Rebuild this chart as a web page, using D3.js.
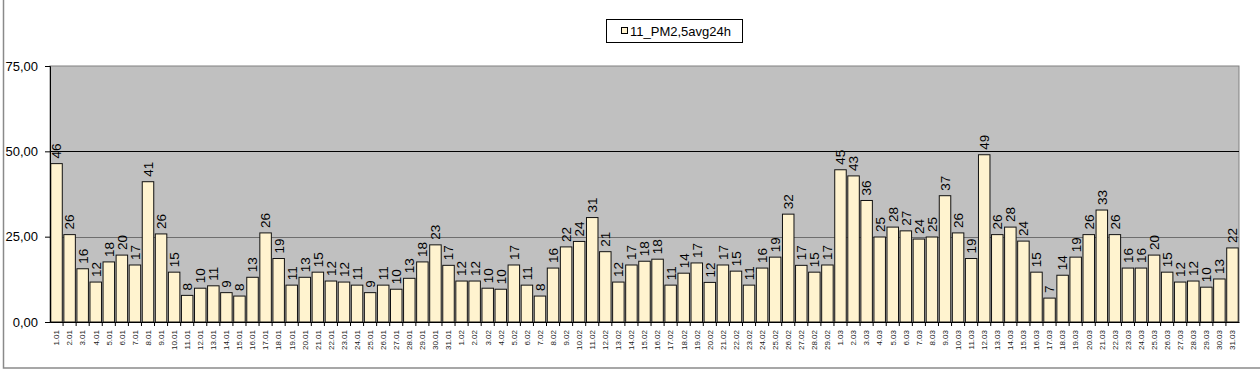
<!DOCTYPE html>
<html>
<head>
<meta charset="utf-8">
<script src="https://cdn.jsdelivr.net/npm/d3@7"></script>
<style>
  html, body { margin: 0; padding: 0; background: #fff; }
  svg { display: block; }
  text { font-family: "Liberation Sans", Arial, sans-serif; }
</style>
</head>
<body>
<svg id="chart" width="1260" height="372"></svg>
<script>
// ---- data ----
const seriesName = "11_PM2,5avg24h";
const janDays = d3.range(1, 32).map(d => d + ".01");
const febDays = d3.range(1, 30).map(d => d + ".02");
const marDays = d3.range(1, 32).map(d => d + ".03");
const categories = janDays.concat(febDays, marDays);
const janValues = [46.4, 25.6, 15.6, 11.7, 17.6, 19.6, 16.7, 41.1, 25.8, 14.6,
                   7.8, 9.9, 10.6, 8.6, 7.6, 13.1, 26.1, 18.6, 10.8, 13.1,
                   14.6, 12.0, 11.7, 10.8, 8.6, 10.8, 9.6, 12.8, 17.6, 22.6, 16.6];
const febValues = [12.0, 12.0, 9.9, 9.6, 16.7, 10.8, 7.6, 15.8, 22.0, 23.6,
                   30.6, 20.6, 11.7, 16.7, 17.8, 18.4, 10.8, 14.3, 17.3, 11.6,
                   16.7, 14.9, 10.8, 15.8, 19.0, 31.6, 16.6, 14.6, 16.7];
const marValues = [44.6, 42.8, 35.6, 24.9, 27.8, 26.7, 24.3, 24.9, 37.0, 26.1,
                   18.6, 49.0, 25.6, 27.8, 23.7, 14.6, 7.0, 13.7, 19.0, 25.6,
                   32.8, 25.6, 15.8, 15.8, 19.6, 14.6, 11.7, 12.0, 10.2, 12.6, 21.7];
const values = janValues.concat(febValues, marValues);
const yTicks = [0, 25, 50, 75];

// ---- layout ----
const svg = d3.select("#chart");
const plot = { left: 50, right: 1239, top: 66, bottom: 322 };

// outer border
svg.append("rect")
  .attr("x", 3.5).attr("y", -5).attr("width", 1270).attr("height", 373)
  .attr("fill", "none").attr("stroke", "#8a8a8a").attr("stroke-width", 1.5);

const x = d3.scaleBand().domain(categories).range([plot.left, plot.right]).paddingInner(0.12).paddingOuter(0.06);
const y = d3.scaleLinear().domain([0, 75]).range([plot.bottom, plot.top]);

// plot background
svg.append("rect")
  .attr("x", plot.left).attr("y", plot.top)
  .attr("width", plot.right - plot.left).attr("height", plot.bottom - plot.top)
  .attr("fill", "#c0c0c0").attr("stroke", "#808080").attr("stroke-width", 1);

// gridlines
svg.append("g").selectAll("line").data([25, 50]).join("line")
  .attr("x1", plot.left).attr("x2", plot.right)
  .attr("y1", d => Math.round(y(d)) + 0.5).attr("y2", d => Math.round(y(d)) + 0.5)
  .attr("stroke", d => d === 50 ? "#000" : "#6e6e6e").attr("stroke-width", 1);

// bars
svg.append("g").selectAll("rect").data(values).join("rect")
  .attr("x", (d, i) => x(categories[i]))
  .attr("y", d => y(d))
  .attr("width", x.bandwidth())
  .attr("height", d => plot.bottom - y(d))
  .attr("fill", "#fff3cf")
  .attr("stroke", "#111").attr("stroke-width", 1);

// value labels
const fmt = d3.format(".0f");
svg.append("g").selectAll("text").data(values).join("text")
  .attr("transform", (d, i) => `translate(${x(categories[i]) + x.bandwidth() / 2},${y(d) - 5}) rotate(-90)`)
  .attr("dy", "0.36em")
  .attr("text-anchor", "start")
  .attr("font-size", 13.5)
  .attr("fill", "#000")
  .text(d => fmt(d));

// y axis
const yAxis = d3.axisLeft(y).tickValues(yTicks).tickSize(5).tickPadding(7)
  .tickFormat(d => d3.format(".2f")(d).replace(".", ","));
const gy = svg.append("g").attr("transform", `translate(${plot.left},0)`).call(yAxis);
gy.select(".domain").attr("stroke", "#000");
gy.selectAll(".tick line").attr("stroke", "#000");
gy.selectAll(".tick text").attr("font-size", 13).attr("fill", "#000")
  .attr("font-family", "'Liberation Sans', Arial, sans-serif");

// x axis
const xAxis = d3.axisBottom(x).tickSize(0).tickPadding(0);
const gx = svg.append("g").attr("transform", `translate(0,${plot.bottom})`).call(xAxis);
gx.select(".domain").attr("stroke", "#000");
gx.selectAll(".tick text")
  .attr("transform", "translate(0,8) rotate(-90)")
  .attr("text-anchor", "end")
  .attr("x", 0).attr("y", 0).attr("dy", "0.35em")
  .attr("font-size", 8).attr("fill", "#222")
  .attr("font-family", "'Liberation Sans', Arial, sans-serif");
// tick marks between categories
const step = x.step();
gx.append("g").selectAll("line").data(categories.slice(1)).join("line")
  .attr("x1", d => x(d) - (step - x.bandwidth()) / 2).attr("x2", d => x(d) - (step - x.bandwidth()) / 2)
  .attr("y1", 0).attr("y2", 4).attr("stroke", "#000");

// legend
const lg = svg.append("g");
lg.append("rect").attr("x", 606.5).attr("y", 19.5).attr("width", 136).attr("height", 23)
  .attr("fill", "#fff").attr("stroke", "#000");
lg.append("rect").attr("x", 621.5).attr("y", 27.5).attr("width", 6).attr("height", 6)
  .attr("fill", "#fff3cf").attr("stroke", "#000");
lg.append("text").attr("x", 630).attr("y", 31).attr("dy", "0.35em")
  .attr("font-size", 13).attr("fill", "#000").text(seriesName);
</script>
</body>
</html>
